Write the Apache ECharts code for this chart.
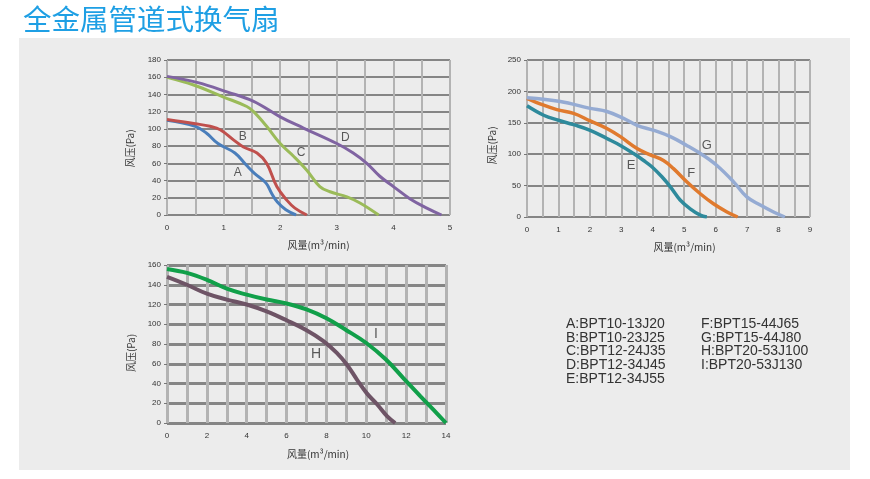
<!DOCTYPE html>
<html>
<head>
<meta charset="utf-8">
<script src="https://cdn.jsdelivr.net/npm/echarts@6/dist/echarts.min.js"></script>
<style>
html, body { margin: 0; padding: 0; background: #fff; }
#main { width: 870px; height: 479px; }
</style>
</head>
<body>
<div id="main"></div>
<script>
// curves: [flow m3/min, pressure Pa]
var curveA = [[0,110],[0.5,103],[0.7,95],[0.9,83],[1.2,72],[1.4,58],[1.55,48],[1.75,37],[1.85,25],[1.95,15],[2.1,6],[2.28,0]];
var curveB = [[0,111],[0.5,106],[0.76,103],[0.94,99],[1.18,87],[1.35,79],[1.59,72],[1.76,60],[1.94,33],[2.12,17],[2.26,8],[2.47,0]];
var curveC = [[0,160],[0.47,151],[1,137],[1.41,126],[1.53,120],[1.76,103],[2,83],[2.24,68],[2.47,52],[2.7,33],[2.88,27],[3.18,21],[3.41,14],[3.74,0]];
var curveD = [[0,161],[0.53,154],[1.06,143],[1.53,132],[2,114],[2.41,101],[3,83],[3.29,72],[3.53,60],[3.76,45],[4,33],[4.29,19],[4.59,8],[4.85,0]];

var curveE = [[0,177],[0.53,162],[1,154],[1.48,147],[2.01,138],[2.54,125],[2.97,114],[3.39,101],[3.71,90],[3.97,80],[4.29,64],[4.56,48],[4.87,27],[5.19,13],[5.51,3],[5.72,0]];
var curveF = [[0,189],[0.53,178],[0.95,171],[1.48,165],[2.01,153],[2.54,141],[2.97,128],[3.5,109],[3.92,99],[4.34,90],[4.66,77],[5.08,56],[5.51,37],[5.93,21],[6.36,8],[6.7,0]];
var curveG = [[0,190],[1.06,184],[2.01,173],[2.54,168],[3.07,157],[3.5,146],[4.03,138],[4.56,128],[5.08,114],[5.61,98],[6.04,82],[6.57,56],[6.99,32],[7.42,19],[7.84,8],[8.2,0]];

var curveH = [[0,148],[1,140],[2,131],[3,125],[4,120],[5,113],[6,104],[7,94],[7.85,83],[8.52,71],[9.03,59],[9.53,44],[10.03,30],[10.54,19],[11.04,7],[11.45,0]];
var curveI = [[0,156],[1,152],[2,145],[3,136],[4,130],[5,125],[6,121],[7,115],[8,106],[9,94],[10,81],[11,64],[11.88,45],[12.72,27],[13.39,13],[14,0]];

var labels1 = [['A',1.25,49],['B',1.34,91],['C',2.37,72],['D',3.15,90]];
var labels2 = [['E',3.31,82],['F',5.22,69],['G',5.72,114]];
var labels3 = [['H',7.48,70],['I',10.49,90]];

var legendCol1 = ['A:BPT10-13J20','B:BPT10-23J25','C:BPT12-24J35','D:BPT12-34J45','E:BPT12-34J55'];
var legendCol2 = ['F:BPT15-44J65','G:BPT15-44J80','H:BPT20-53J100','I:BPT20-53J130'];

var font = 'Liberation Sans, Arial, sans-serif';
var cjk = 'Noto Sans CJK SC, sans-serif';

var chart = echarts.init(document.getElementById('main'));

function xAx(idx, max, interval, lw, gap, shift) {
    return {
        type: 'value', gridIndex: idx, min: 0, max: max, interval: interval,
        name: '风量(m³/min)', nameLocation: 'middle', nameGap: gap,
        nameTextStyle: { fontFamily: cjk, fontSize: 10, color: '#333', padding: [0, 0, 0, shift] },
        axisLine: { show: false },
        axisTick: { show: false },
        axisLabel: { fontFamily: font, fontSize: 8, color: '#333', margin: 9 },
        splitLine: { show: true, lineStyle: { color: '#b3b3b3', width: lw } },
        minorTick: { show: false, splitNumber: 2 },
        minorSplitLine: { show: true, lineStyle: { color: '#b3b3b3', width: lw } }
    };
}
function yAx(idx, max, interval, lw, gap, shift) {
    return {
        type: 'value', gridIndex: idx, min: 0, max: max, interval: interval,
        name: '风压(Pa)', nameLocation: 'middle', nameGap: gap,
        nameTextStyle: { fontFamily: cjk, fontSize: 10, color: '#333', padding: [0, shift, 0, 0] },
        axisLine: { show: false },
        axisTick: { show: true, length: 3, lineStyle: { color: '#777' } },
        axisLabel: { fontFamily: font, fontSize: 8, color: '#333', margin: 6 },
        splitLine: { show: true, lineStyle: { color: '#858585', width: lw } }
    };
}
function curve(data, color, idx, w) {
    return {
        type: 'line', xAxisIndex: idx, yAxisIndex: idx, data: data,
        smooth: 0.4, showSymbol: false, z: 3,
        lineStyle: { color: color, width: w }
    };
}
function tags(list, idx, size) {
    return {
        type: 'scatter', xAxisIndex: idx, yAxisIndex: idx, symbolSize: 0, z: 4,
        data: list.map(function (l) { return { name: l[0], value: [l[1], l[2]] }; }),
        label: { show: true, position: 'inside', formatter: '{b}',
                 fontFamily: font, fontSize: size, color: '#333' }
    };
}

var option = {
    backgroundColor: '#fff',
    animation: false,
    title: {
        text: '全金属管道式换气扇', left: 18, top: 0,
        textStyle: { fontFamily: cjk, fontSize: 28.5, fontWeight: 'normal', color: '#1e9fe4' }
    },
    graphic: [
        { type: 'rect', z: -10, shape: { x: 19, y: 38, width: 831, height: 432 }, style: { fill: '#ececec' } },
        { type: 'text', left: 566, top: 317, style: { text: legendCol1.join('\n'), font: '14px ' + font, fill: '#333', lineHeight: 13.7 } },
        { type: 'text', left: 701, top: 317, style: { text: legendCol2.join('\n'), font: '14px ' + font, fill: '#333', lineHeight: 13.7 } }
    ],
    grid: [
        { left: 167, top: 60, width: 283, height: 155 },
        { left: 527, top: 60, width: 283, height: 157 },
        { left: 167, top: 265, width: 279, height: 158 }
    ],
    xAxis: [xAx(0, 5, 1, 2, 25, 20), xAx(1, 9, 1, 2, 25, 32), xAx(2, 14, 2, 3, 26, 23)],
    yAxis: [yAx(0, 180, 20, 2, 32, 22), yAx(1, 250, 50, 2, 30, 14), yAx(2, 160, 20, 3, 31, 18)],
    series: [
        curve(curveA, '#4a7ebb', 0, 3),
        curve(curveB, '#c0504d', 0, 3),
        curve(curveC, '#9bbb59', 0, 3),
        curve(curveD, '#8064a2', 0, 3),
        curve(curveE, '#2e8a9c', 1, 3.5),
        curve(curveF, '#e07a2e', 1, 3.5),
        curve(curveG, '#95abd3', 1, 3.5),
        curve(curveH, '#6e5466', 2, 4),
        curve(curveI, '#11a04a', 2, 4),
        tags(labels1, 0, 12),
        tags(labels2, 1, 13),
        tags(labels3, 2, 14)
    ]
};
chart.setOption(option);
</script>
</body>
</html>
